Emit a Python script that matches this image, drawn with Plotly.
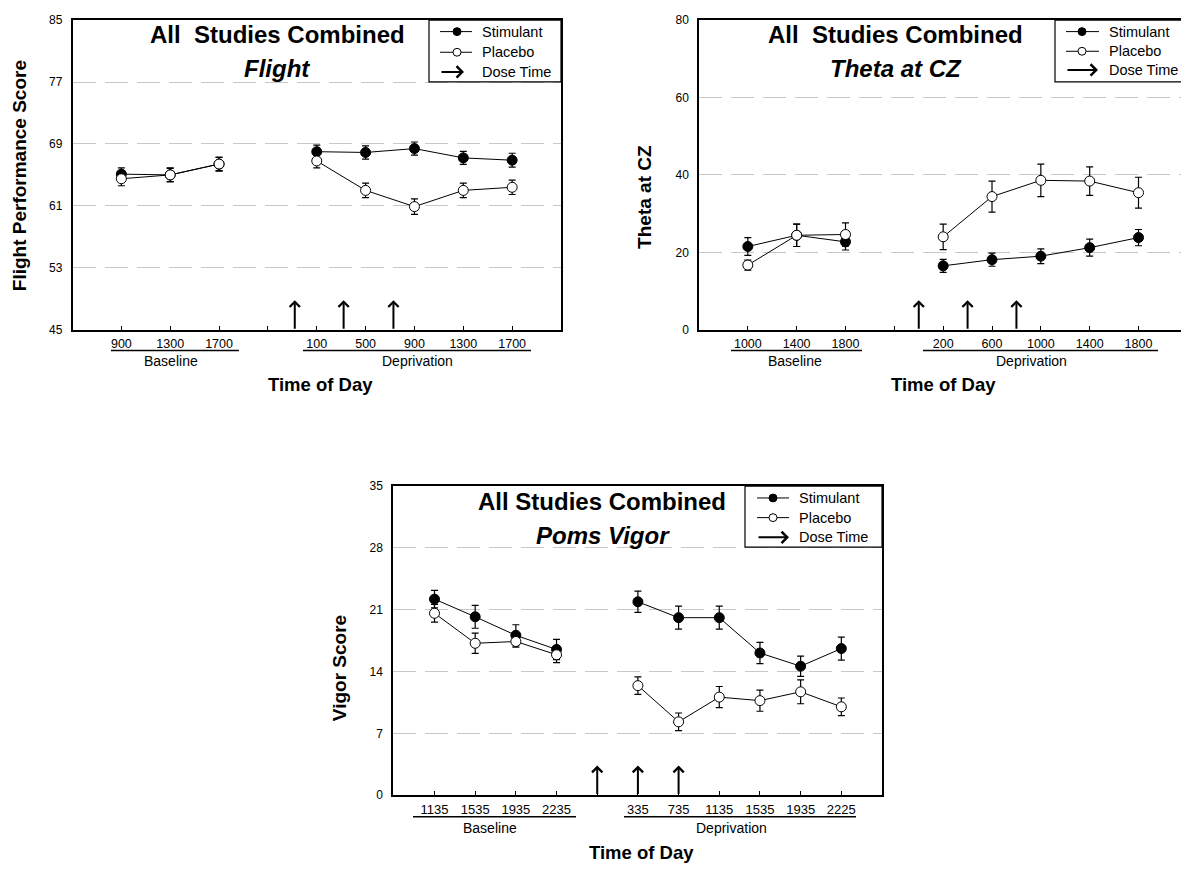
import plotly.graph_objects as go

W, H = 1181, 869
FONT = "Liberation Sans, Arial, sans-serif"

# ---------------- data ----------------
flight_ticks = ["900", "1300", "1700", "", "100", "500", "900", "1300", "1700"]
flight_base_x = [0, 1, 2]
flight_dep_x = [4, 5, 6, 7, 8]
flight_stim_base = [65.1, 65.0, 66.4]
flight_stim_base_err = [0.8, 0.85, 0.85]
flight_plac_base = [64.5, 65.0, 66.4]
flight_plac_base_err = [0.9, 0.9, 0.9]
flight_stim_dep = [68.0, 67.9, 68.4, 67.2, 66.9]
flight_stim_dep_err = [0.85, 0.85, 0.85, 0.85, 0.9]
flight_plac_dep = [66.8, 63.0, 60.9, 63.0, 63.4]
flight_plac_dep_err = [0.9, 0.93, 1.0, 0.93, 0.93]
flight_dose = [3.55, 4.55, 5.57]

theta_ticks = ["1000", "1400", "1800", "", "200", "600", "1000", "1400", "1800"]
theta_base_x = [0, 1, 2]
theta_dep_x = [4, 5, 6, 7, 8]
theta_stim_base = [21.5, 24.4, 22.7]
theta_stim_base_err = [2.3, 2.9, 2.1]
theta_plac_base = [16.7, 24.4, 24.6]
theta_plac_base_err = [1.3, 2.9, 3.0]
theta_stim_dep = [16.5, 18.1, 19.0, 21.2, 23.8]
theta_stim_dep_err = [1.7, 1.7, 1.9, 2.2, 2.1]
theta_plac_dep = [24.0, 34.4, 38.6, 38.4, 35.4]
theta_plac_dep_err = [3.3, 4.0, 4.2, 3.7, 4.0]
theta_dose = [3.5, 4.5, 5.5]

vigor_ticks = ["1135", "1535", "1935", "2235", "", "335", "735", "1135", "1535", "1935", "2225"]
vigor_base_x = [0, 1, 2, 3]
vigor_dep_x = [5, 6, 7, 8, 9, 10]
vigor_stim_base = [22.2, 20.2, 18.1, 16.5]
vigor_stim_base_err = [1.0, 1.3, 1.2, 1.15]
vigor_plac_base = [20.6, 17.2, 17.4, 15.9]
vigor_plac_base_err = [1.0, 1.15, 0.65, 0.9]
vigor_stim_dep = [21.9, 20.1, 20.1, 16.1, 14.6, 16.6]
vigor_stim_dep_err = [1.2, 1.3, 1.3, 1.2, 1.15, 1.3]
vigor_plac_dep = [12.4, 8.3, 11.1, 10.7, 11.7, 10.0]
vigor_plac_dep_err = [1.0, 1.0, 1.2, 1.2, 1.35, 1.0]
vigor_dose = [4, 5, 6]


def px(x):
    return x / W


def py(y):
    return 1 - y / H


fig = go.Figure()

panels = [
    dict(ax="x", ay="y", xdom=(72.5, 561), ydom=(13.3, 328), xr=[-1, 9], yr=[45, 85], ydt=8,
         ticks=flight_ticks, mirror_y=True,
         series=[(flight_base_x, flight_stim_base, flight_stim_base_err, "black"),
                 (flight_dep_x, flight_stim_dep, flight_stim_dep_err, "black"),
                 (flight_base_x, flight_plac_base, flight_plac_base_err, "white"),
                 (flight_dep_x, flight_plac_dep, flight_plac_dep_err, "white")],
         dose=flight_dose),
    dict(ax="x2", ay="y2", xdom=(699, 1181), ydom=(13.3, 328), xr=[-1, 8.87], yr=[0, 80], ydt=20,
         ticks=theta_ticks, mirror_y=False,
         series=[(theta_base_x, theta_stim_base, theta_stim_base_err, "black"),
                 (theta_dep_x, theta_stim_dep, theta_stim_dep_err, "black"),
                 (theta_base_x, theta_plac_base, theta_plac_base_err, "white"),
                 (theta_dep_x, theta_plac_dep, theta_plac_dep_err, "white")],
         dose=theta_dose),
    dict(ax="x3", ay="y3", xdom=(393, 882), ydom=(487, 801), xr=[-1.02, 11], yr=[0, 35], ydt=7,
         ticks=vigor_ticks, mirror_y=True,
         series=[(vigor_base_x, vigor_stim_base, vigor_stim_base_err, "black"),
                 (vigor_dep_x, vigor_stim_dep, vigor_stim_dep_err, "black"),
                 (vigor_base_x, vigor_plac_base, vigor_plac_base_err, "white"),
                 (vigor_dep_x, vigor_plac_dep, vigor_plac_dep_err, "white")],
         dose=vigor_dose),
]

layout = dict(width=W, height=H, margin=dict(l=0, r=0, t=0, b=0),
              paper_bgcolor="white", plot_bgcolor="white", showlegend=False,
              font=dict(family=FONT, color="black"))
annotations = []
shapes = []

for i, p in enumerate(panels):
    n = "" if i == 0 else str(i + 1)
    for xs, ys, es, fill in p["series"]:
        fig.add_trace(go.Scatter(
            x=xs, y=ys, xaxis=p["ax"], yaxis=p["ay"], mode="lines+markers",
            line=dict(color="black", width=1),
            marker=dict(symbol="circle", size=10, color=fill, line=dict(color="black", width=1)),
            error_y=dict(type="data", array=es, visible=True, color="black", thickness=1.2, width=3.5),
            cliponaxis=False))
    ntick = len(p["ticks"])
    layout["xaxis" + n] = dict(
        domain=[px(p["xdom"][0]), px(p["xdom"][1])], anchor=p["ay"], range=p["xr"],
        tickmode="array", tickvals=list(range(ntick)), ticktext=p["ticks"],
        ticks="inside", ticklen=4, tickwidth=1.2, tickcolor="black",
        tickfont=dict(size=12.5 if i < 2 else 13, family=FONT),
        showline=True, linecolor="black", linewidth=1.5, mirror=True,
        showgrid=False, zeroline=False, ticklabelstandoff=2)
    yvals = list(range(p["yr"][0], p["yr"][1] + 1, p["ydt"]))
    layout["yaxis" + n] = dict(
        domain=[py(p["ydom"][1]), py(p["ydom"][0])], anchor=p["ax"], range=p["yr"],
        tickmode="array", tickvals=yvals, ticks="",
        tickfont=dict(size=12, family=FONT),
        showline=True, linecolor="black", linewidth=1.5, mirror=p["mirror_y"],
        showgrid=True, gridcolor="#c8c8c8", gridwidth=1.3, griddash="23px,9px",
        zeroline=False, ticklabelstandoff=6)
    for d in p["dose"]:
        annotations.append(dict(
            x=d, y=30 / (p["ydom"][1] - p["ydom"][0]), xref=p["ax"], yref=p["ay"] + " domain",
            ax=0, ay=30, axref="pixel", ayref="pixel", showarrow=True, text="",
            arrowhead=4, arrowsize=1, arrowwidth=2, arrowcolor="black"))

# ---------------- text ----------------
def text(x, y, s, size, bold=False, italic=False, angle=0, xanchor="center"):
    if bold:
        s = "<b>" + s + "</b>"
    if italic:
        s = "<i>" + s + "</i>"
    annotations.append(dict(x=px(x), y=py(y), xref="paper", yref="paper", text=s,
                            showarrow=False, xanchor=xanchor, yanchor="middle",
                            textangle=angle, font=dict(size=size, family=FONT, color="black")))


def hline(x0, x1, y, w=1.5):
    shapes.append(dict(type="line", xref="paper", yref="paper", x0=px(x0), x1=px(x1),
                       y0=py(y), y1=py(y), line=dict(color="black", width=w)))


# titles
text(277, 28, "All\u00a0 Studies Combined", 24, bold=True)
text(277, 62, "Flight", 24, bold=True, italic=True)
text(895, 28, "All\u00a0 Studies Combined", 24, bold=True)
text(896, 62, "Theta at CZ", 24, bold=True, italic=True)
text(602, 503, "All Studies Combined", 24, bold=True)
text(603, 537, "Poms Vigor", 24, bold=True, italic=True)

# axis titles
text(19, 172, "Flight Performance Score", 19, bold=True, angle=-90)
text(645, 193, "Theta at CZ", 19, bold=True, angle=-90)
text(339, 672, "Vigor Score", 19, bold=True, angle=-90)
text(320, 384, "Time of Day", 18.5, bold=True)
text(943, 384, "Time of Day", 18.5, bold=True)
text(641, 859, "Time of Day", 18.5, bold=True)

# group labels and underlines
text(171, 360, "Baseline", 14)
text(417, 360, "Deprivation", 14)
text(795, 360, "Baseline", 14)
text(1031, 360, "Deprivation", 14)
text(490, 834, "Baseline", 14)
text(731, 834, "Deprivation", 14)
hline(111, 239, 349)
hline(303, 531, 349)
hline(731, 862, 349)
hline(923, 1158, 349)
hline(413, 576, 823)
hline(624, 856, 823)

# legends
legends = [
    dict(box=(429, 561, 13.3, 76), l0=440, l1=472, m=457, a1=464, tx=480, rows=(25, 46, 66)),
    dict(box=(1055, 1195, 13.3, 76), l0=1066, l1=1099, m=1082, a1=1098, tx=1107, rows=(25, 45, 64)),
    dict(box=(745, 882, 487, 549), l0=757, l1=789, m=773, a1=789, tx=797, rows=(499, 519, 539)),
]
for lg in legends:
    x0, x1, y0, y1 = lg["box"]
    shapes.append(dict(type="rect", xref="paper", yref="paper", x0=px(x0), x1=px(x1),
                       y0=py(y1), y1=py(y0), line=dict(color="black", width=1.2),
                       fillcolor="white", layer="above"))
    r = 4
    for row, fill in zip(lg["rows"][:2], ["black", "white"]):
        hline(lg["l0"], lg["l1"], row, w=1)
        shapes.append(dict(type="circle", xref="paper", yref="paper",
                           x0=px(lg["m"] - r), x1=px(lg["m"] + r), y0=py(row + r), y1=py(row - r),
                           fillcolor=fill, line=dict(color="black", width=1), layer="above"))
    annotations.append(dict(x=px(lg["a1"]), y=py(lg["rows"][2]), xref="paper", yref="paper",
                            ax=-(lg["a1"] - lg["l0"]), ay=0, axref="pixel", ayref="pixel",
                            showarrow=True, text="", arrowhead=4, arrowsize=1.1, arrowwidth=2,
                            arrowcolor="black"))
    for row, s in zip(lg["rows"], ["Stimulant", "Placebo", "Dose Time"]):
        text(lg["tx"], row, s, 14.5, xanchor="left")

layout["annotations"] = annotations
layout["shapes"] = shapes
fig.update_layout(**layout)
fig.write_html("out.html")
